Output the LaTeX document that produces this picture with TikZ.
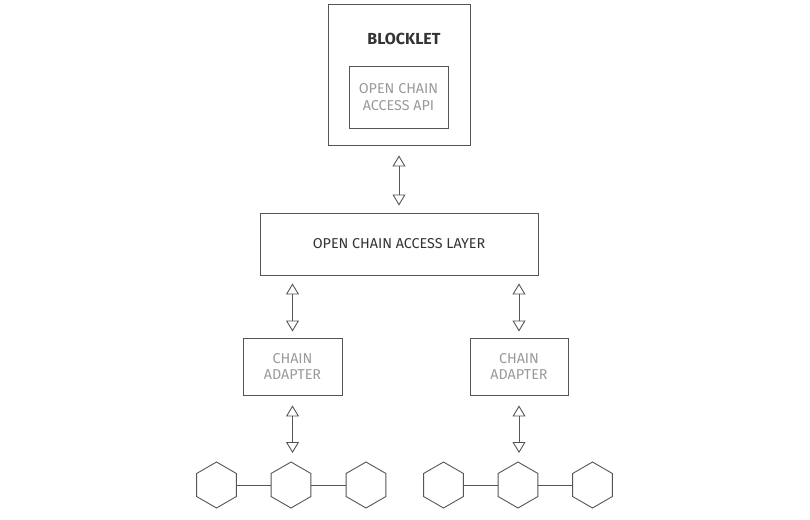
\documentclass[tikz,border=0pt]{standalone}
\usepackage{fontspec}
\setmainfont{Fira Sans}
\usetikzlibrary{arrows.meta,shapes.geometric}
\definecolor{edge}{HTML}{555555}
\definecolor{darktext}{HTML}{333333}
\definecolor{lighttext}{HTML}{9A9A9A}
\tikzset{
  box/.style={draw=edge, line width=0.9pt, fill=white, inner sep=0pt, align=center},
  darklbl/.style={text=darktext, font=\fontsize{14.3}{16.5}\selectfont},
  lightlbl/.style={text=lighttext, font=\fontsize{14.3}{16.5}\selectfont},
  hexa/.style={draw=edge, line width=0.9pt, regular polygon, regular polygon sides=6, shape border rotate=30, minimum size=46pt, inner sep=0pt, outer sep=0pt},
  dbl/.style={draw=edge, line width=0.9pt, {Triangle[open,width=13pt,length=11pt]}-{Triangle[open,width=13pt,length=11pt]}},
  link/.style={draw=edge, line width=0.9pt}
}
\begin{document}
\begin{tikzpicture}[x=1pt,y=-1pt]
\useasboundingbox (0,0) rectangle (810,519);
% Blocklet
\node[box, minimum width=142pt, minimum height=141pt] (blk) at (399,74.5) {};
\node[darklbl, font=\fontsize{16}{18}\selectfont\bfseries] (blkt) at (404,39) {BLOCKLET};
\node[box, lightlbl, minimum width=99pt, minimum height=62pt] (api) at (398.5,97) {OPEN CHAIN\\ACCESS API};
% Layer
\node[box, darklbl, minimum width=278pt, minimum height=62pt] (layer) at (399,244) {OPEN CHAIN ACCESS LAYER};
% Adapters
\node[box, lightlbl, minimum width=99pt, minimum height=57pt] (adl) at (292.5,366.5) {CHAIN\\ADAPTER};
\node[box, lightlbl, minimum width=98pt, minimum height=57pt] (adr) at (519,366.5) {CHAIN\\ADAPTER};
% Hexagons
\node[hexa] (h1) at (216.5,485) {};
\node[hexa] (h2) at (291,485) {};
\node[hexa] (h3) at (366,485) {};
\node[hexa] (h4) at (443.5,485) {};
\node[hexa] (h5) at (518,485) {};
\node[hexa] (h6) at (592.5,485) {};
\draw[link] (h1) -- (h2);
\draw[link] (h2) -- (h3);
\draw[link] (h4) -- (h5);
\draw[link] (h5) -- (h6);
% Arrows
\draw[dbl, shorten <=10pt, shorten >=7pt] (blk.south) -- (layer.north);
\draw[dbl, shorten <=8pt, shorten >=6pt] (adl.north |- layer.south) -- (adl.north);
\draw[dbl, shorten <=8pt, shorten >=6pt] (adr.north |- layer.south) -- (adr.north);
\draw[dbl, shorten <=10pt, shorten >=9pt] (adl.south) -- (adl.south |- h2.north);
\draw[dbl, shorten <=10pt, shorten >=9pt] (adr.south) -- (adr.south |- h5.north);
\end{tikzpicture}
\end{document}
